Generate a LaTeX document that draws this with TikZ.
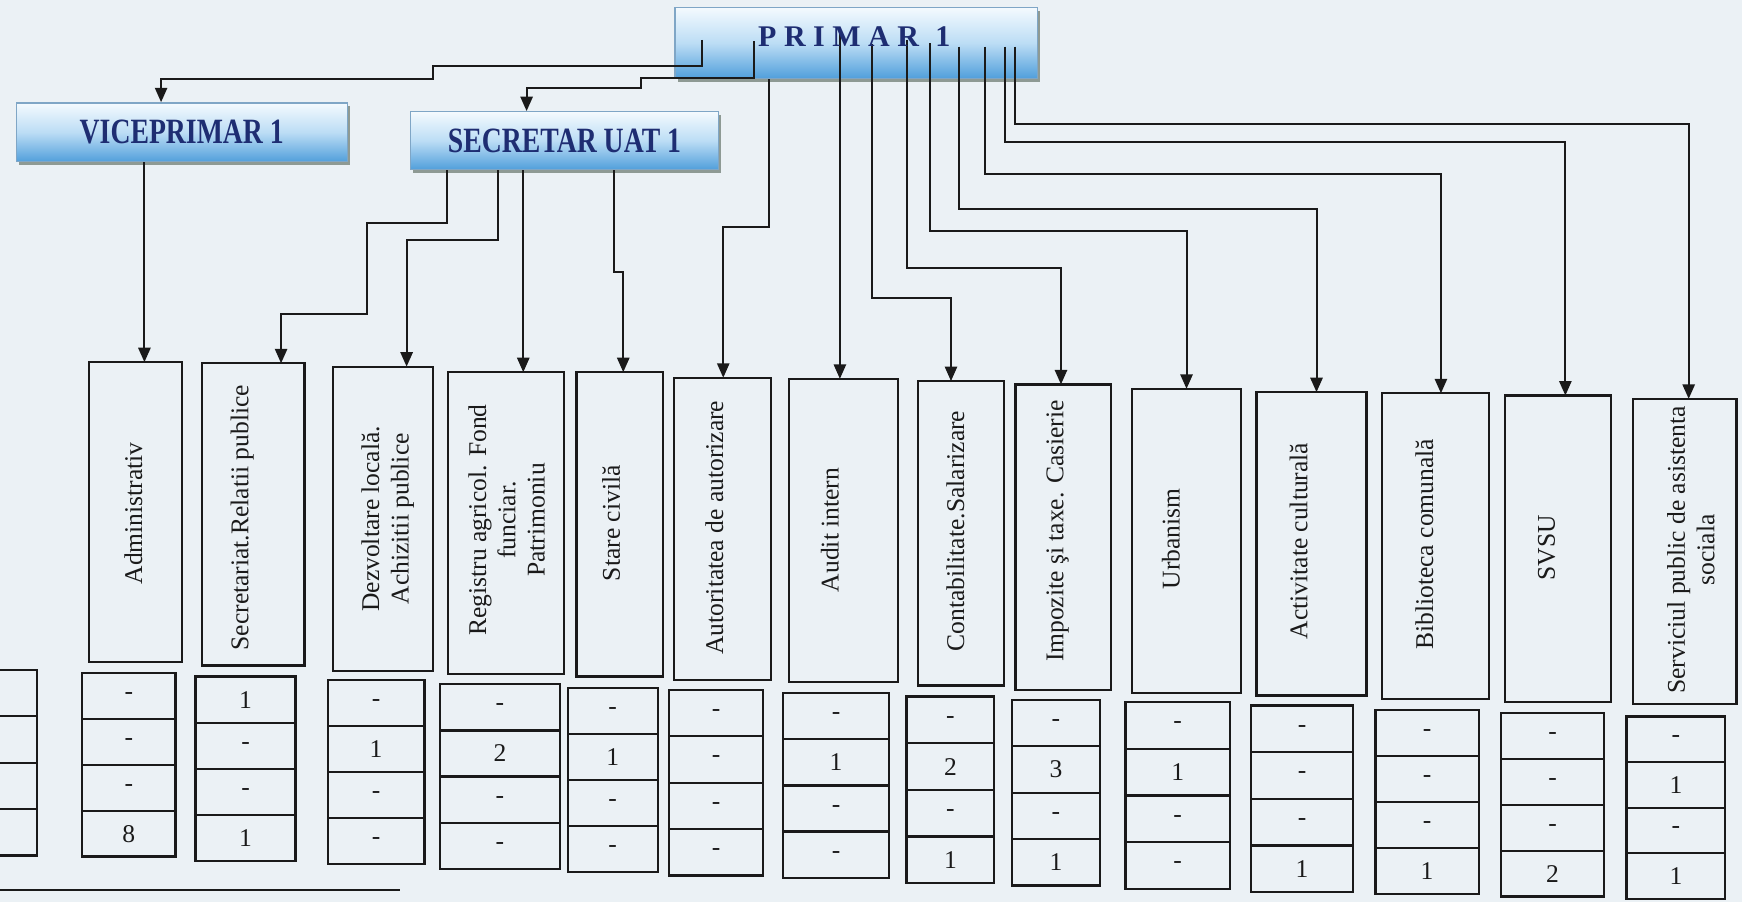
\documentclass[tikz,border=0pt]{standalone}
\usepackage{fontspec}
\setmainfont{Liberation Serif}
\newfontfamily\hdfont[FakeStretch=0.78]{Liberation Serif}
\usetikzlibrary{arrows.meta,shadows}
\definecolor{bgc}{HTML}{EBF1F5}
\definecolor{navy}{HTML}{1E2D72}
\definecolor{hdtop}{HTML}{F4FAFE}
\definecolor{hdmid}{HTML}{BCDDF5}
\definecolor{hdbot}{HTML}{519FDB}
\definecolor{hdline}{HTML}{7FA6C6}
\definecolor{shd}{HTML}{6F7D74}
\definecolor{ink}{HTML}{1A1A1A}
\newcommand\dbox[5]{%
 \pgfmathsetmacro\mybw{(#4-#2)*0.5}%
 \pgfmathsetmacro\mybh{(#5-#3)*0.5}%
 \node[dept,minimum width=\mybw pt,minimum height=\mybh pt,anchor=north west] (#1) at (#2,#3) {};}
\newcommand\tbl[9]{%
 \pgfmathsetmacro\mybw{(#4-#2)*0.5}%
 \pgfmathsetmacro\mych{(#5-#3)*0.125}%
 \node[cell,minimum width=\mybw pt,minimum height=\mych pt,anchor=north west] (#1a) at (#2,#3) {#6};
 \node[cell,minimum width=\mybw pt,minimum height=\mych pt,anchor=north] (#1b) at (#1a.south) {#7};
 \node[cell,minimum width=\mybw pt,minimum height=\mych pt,anchor=north] (#1c) at (#1b.south) {#8};
 \node[cell,minimum width=\mybw pt,minimum height=\mych pt,anchor=north] (#1d) at (#1c.south) {#9};}
\begin{document}
\begin{tikzpicture}[x=0.5pt,y=-0.5pt,
 dept/.style={draw=ink,line width=1pt,inner sep=0,outer sep=0},
 cell/.style={draw=ink,line width=1pt,inner sep=0,outer sep=0,font=\fontsize{11.5}{12}\selectfont,text=ink},
 lbl/.style={font=\fontsize{11.5}{13.2}\selectfont,align=center,inner sep=0,text=ink,rotate=90},
 conn/.style={draw=ink,line width=0.9pt,-{Triangle[length=6.5pt,width=5.5pt]}},
 hdr/.style={draw=hdline,line width=0.6pt,top color=hdtop,bottom color=hdbot,middle color=hdmid,inner sep=0,
   drop shadow={shadow xshift=1.2pt,shadow yshift=-1.6pt,fill=shd,opacity=0.75}},
 hdtxt/.style={font=\hdfont\bfseries\fontsize{16}{18}\selectfont,text=navy}]
\path[use as bounding box] (0,0) rectangle (1568,812);
\clip (0,0) rectangle (1568,812);
\fill[bgc] (0,0) rectangle (1568,812);

% header boxes
\node[hdr,minimum width=163pt,minimum height=32pt,anchor=north west] (primar) at (607,6) {};
\node[hdr,hdtxt,minimum width=149pt,minimum height=26.5pt,anchor=north west] (vice) at (14,92) {VICEPRIMAR 1};
\node[hdr,hdtxt,minimum width=138.5pt,minimum height=26pt,anchor=north west] (secr) at (369,100) {SECRETAR UAT 1};

% department boxes
\dbox{d1}{80}{326}{164}{596}
\dbox{d2}{182}{327}{274}{599}
\dbox{d3}{300}{330}{390}{604}
\dbox{d4}{403}{335}{508}{607}
\dbox{d5}{519}{335}{597}{609}
\dbox{d6}{607}{340}{694}{612}
\dbox{d7}{710}{341}{808}{614}
\dbox{d8}{826}{343}{904}{617}
\dbox{d9}{914}{346}{1000}{621}
\dbox{d10}{1019}{350}{1117}{624}
\dbox{d11}{1131}{353}{1230}{626}
\dbox{d12}{1244}{354}{1340}{629}
\dbox{d13}{1355}{356}{1450}{632}
\dbox{d14}{1470}{359}{1563}{634}

% labels
\node[lbl] (l1) at (120,462) {Administrativ};
\node[lbl] (l2) at (218,466) {Secretariat.Relatii publice};
\node[lbl] (l3) at (349,467) {Dezvoltare local\u{a}.\\Achizitii publice};
\node[lbl] (l4) at (456,468) {Registru agricol. Fond\\funciar.\\Patrimoniu};
\node[lbl] (l5) at (550,471) {Stare civil\u{a}};
\node[lbl] (l6) at (643,475) {Autoritatea de autorizare};
\node[lbl] (l7) at (747,477) {Audit intern};
\node[lbl] (l8) at (860,478) {Contabilitate.Salarizare};
\node[lbl] (l9) at (952,478) {Impozite şi taxe. Casierie};
\node[lbl] (l10) at (1054,485) {Urbanism};
\node[lbl] (l11) at (1169,487) {Activitate cultural\u{a}};
\node[lbl] (l12) at (1282,490) {Biblioteca comunal\u{a}};
\node[lbl] (l13) at (1392,493) {SVSU};
\node[lbl] (l14) at (1522,495) {Serviciul public de asistenta\\sociala};

% tables
\tbl{t0}{-30}{603}{33}{770}{}{}{}{}
\tbl{t1}{74}{606}{158}{771}{-}{-}{-}{8}
\tbl{t2}{176}{609}{266}{775}{1}{-}{-}{1}
\tbl{t3}{295}{612}{382}{778}{-}{1}{-}{-}
\tbl{t4}{396}{616}{504}{782}{-}{2}{-}{-}
\tbl{t5}{511}{619}{592}{785}{-}{1}{-}{-}
\tbl{t6}{602}{621}{687}{788}{-}{-}{-}{-}
\tbl{t7}{705}{624}{800}{790}{-}{1}{-}{-}
\tbl{t8}{816}{627}{895}{795}{-}{2}{-}{1}
\tbl{t9}{911}{630}{990}{797}{-}{3}{-}{1}
\tbl{t10}{1013}{632}{1107}{800}{-}{1}{-}{-}
\tbl{t11}{1126}{635}{1218}{803}{-}{-}{-}{1}
\tbl{t12}{1238}{639}{1331}{805}{-}{-}{-}{1}
\tbl{t13}{1351}{642}{1444}{807}{-}{-}{-}{2}
\tbl{t14}{1464}{645}{1553}{809}{-}{1}{-}{1}

% connector start points inside PRIMAR
\coordinate (pa) at (632,36);
\coordinate (pb) at (679,37);
\coordinate (pd) at (756,31);
\coordinate (pe) at (785,40);
\coordinate (pf) at (816,36);
\coordinate (pg) at (837,39);
\coordinate (ph) at (863,42);
\coordinate (pi) at (887,42);
\coordinate (pj) at (905,42);
\coordinate (pk) at (914,42);

% connectors from PRIMAR
\draw[conn] (pa) -- (632,59) -- (390,59) -- (390,71) -- (145,71) -- (145,0 |- vice.north);
\draw[conn] (pb) -- (679,70) -- (577,70) -- (577,79) -- (474,79) -- (474,0 |- secr.north);
\draw[conn] (primar.south -| 692,0) -- (692,204) -- (651,204) -- (651,0 |- d6.north);
\draw[conn] (pd) -- (pd |- d7.north);
\draw[conn] (pe) -- (785,268) -- (856,268) -- (856,0 |- d8.north);
\draw[conn] (pf) -- (816,241) -- (955,241) -- (955,0 |- d9.north);
\draw[conn] (pg) -- (837,208) -- (1068,208) -- (1068,0 |- d10.north);
\draw[conn] (ph) -- (863,188) -- (1185,188) -- (1185,0 |- d11.north);
\draw[conn] (pi) -- (887,157) -- (1297,157) -- (1297,0 |- d12.north);
\draw[conn] (pj) -- (905,128) -- (1409,128) -- (1409,0 |- d13.north);
\draw[conn] (pk) -- (914,112) -- (1520,112) -- (1520,0 |- d14.north);

% connectors from VICEPRIMAR and SECRETAR
\draw[conn] (vice.south -| 130,0) -- (130,0 |- d1.north);
\draw[conn] (secr.south -| 402,0) -- (402,201) -- (330,201) -- (330,283) -- (253,283) -- (253,0 |- d2.north);
\draw[conn] (secr.south -| 448,0) -- (448,216) -- (366,216) -- (366,0 |- d3.north);
\draw[conn] (secr.south -| 471,0) -- (471,0 |- d4.north);
\draw[conn] (secr.south -| 553,0) -- (553,245) -- (561,245) -- (561,0 |- d5.north);

% PRIMAR label
\node[font=\bfseries\fontsize{13.5}{15}\selectfont,text=navy,inner sep=0] (primart) at (769,33) {P R I M A R\hspace{0.3em} 1};

% bottom rule
\draw[ink,line width=0.8pt] (0,801) -- (360,801);
\end{tikzpicture}
\end{document}
